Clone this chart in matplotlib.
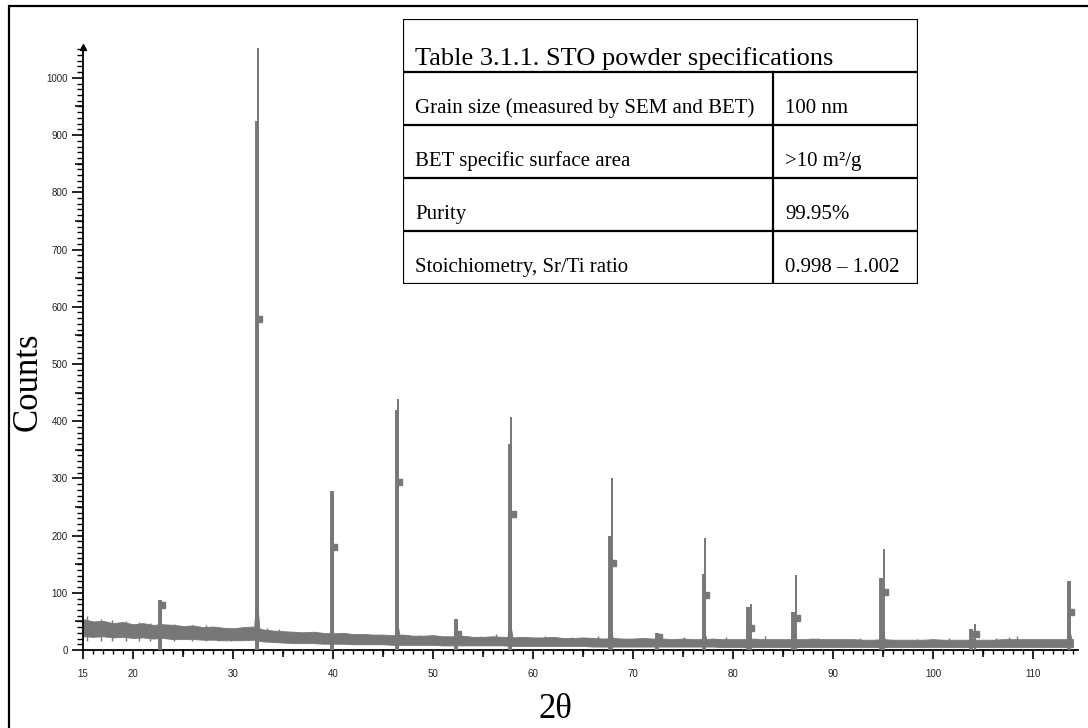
import numpy as np
import matplotlib
matplotlib.use("Agg")
import matplotlib.pyplot as plt
from matplotlib.ticker import MultipleLocator, FixedLocator
from matplotlib.lines import TICKDOWN, TICKLEFT
from matplotlib.patches import Rectangle

# --- XRD pattern of the STO powder ---
bg_x = list(range(15, 115))
bg_hi = [54, 50, 51, 47, 49, 45, 47, 44, 45, 44, 42, 43, 40, 41, 39, 38, 40, 41, 36, 34,
         33, 32, 31, 32, 30, 29, 30, 28, 28, 27, 27, 26, 27, 25, 25, 26, 24, 24, 25, 23,
         23, 24, 23, 22, 23, 22, 22, 23, 21, 21, 22, 21, 20, 21, 20, 20, 21, 20, 20, 19,
         20, 19, 19, 20, 19, 19, 19, 20, 19, 19, 19, 19, 19, 20, 19, 19, 19, 19, 18, 18,
         19, 18, 18, 18, 18, 19, 18, 18, 18, 18, 18, 18, 19, 19, 19, 19, 19, 19, 19, 19]
bg_lo = [24, 23, 24, 22, 23, 21, 22, 20, 21, 19, 19, 19, 18, 18, 17, 17, 17, 18, 15, 14,
         13, 12, 12, 12, 11, 11, 11, 10, 10, 10, 10, 9, 9, 9, 9, 9, 8, 8, 8, 8,
         8, 8, 8, 7, 7, 7, 7, 7, 7, 7, 7, 6, 6, 6, 6, 6, 6, 6, 6, 6,
         6, 6, 6, 6, 5, 5, 5, 5, 5, 5, 5, 5, 5, 5, 5, 5, 5, 5, 5, 5,
         5, 5, 5, 5, 5, 5, 5, 5, 5, 5, 5, 5, 5, 5, 5, 5, 5, 5, 5, 5]

# small noise spikes sticking out of the background band
spike_x = [15.4, 16.8, 17.9, 19.3, 20.6, 21.7, 24.1, 25.9, 27.3, 28.6, 29.8, 33.4, 34.6,
           36.2, 38.5, 43.1, 48.7, 50.6, 54.8, 56.3, 61.2, 63.9, 66.5, 72.4, 75.1, 79.3,
           83.2, 88.5, 90.2, 92.7, 98.4, 101.6, 106.3, 107.6, 108.4, 110.9]
spike_y = [60, 55, 53, 50, 49, 48, 45, 44, 43, 41, 39, 38, 36,
           32, 29, 27, 26, 24, 24, 28, 24, 23, 25, 30, 22, 22,
           25, 21, 20, 21, 20, 21, 21, 22, 24, 20]

# peaks: doublet positions and heights
pk_x1 = [22.75, 32.35, 39.9, 46.4, 52.25, 57.65, 67.7, 72.35, 77.05, 81.5, 86.0, 94.8, 103.8, 113.6]
pk_h1 = [88, 925, 278, 420, 54, 360, 199, 30, 133, 75, 66, 126, 36, 120]
pk_x2 = [22.85, 32.45, 40.0, 46.5, 52.35, 57.8, 67.85, 72.45, 77.2, 81.75, 86.3, 95.1, 104.2, 113.7]
pk_h2 = [80, 1052, 271, 439, 40, 408, 300, 25, 196, 80, 131, 177, 45, 100]
pk_foot = [35, 100, 40, 50, 22, 50, 40, 18, 35, 28, 30, 40, 20, 35]
pk_base = [28, 22, 16, 15, 14, 14, 13, 12, 12, 12, 12, 12, 12, 12]

# reference pattern markers
mk_x = [22.9, 32.55, 40.05, 46.6, 52.5, 58.0, 68.0, 72.6, 77.3, 81.8, 86.4, 95.2, 104.3, 113.8]
mk_y = [78, 578, 180, 294, 28, 237, 152, 22, 96, 38, 56, 101, 28, 66]

x_ticks = [15, 20, 30, 40, 50, 60, 70, 80, 90, 100, 110]
y_ticks = [0, 100, 200, 300, 400, 500, 600, 700, 800, 900, 1000]

# --- table ---
table_title = "Table 3.1.1. STO powder specifications"
table_keys = ["Grain size (measured by SEM and BET)", "BET specific surface area",
              "Purity", "Stoichiometry, Sr/Ti ratio"]
table_vals = ["100 nm", ">10 m\u00b2/g", "99.95%", "0.998 \u2013 1.002"]

W, H = 1088, 728
gray = "#777777"

fig = plt.figure(figsize=(W / 100, H / 100), dpi=100)
ax = fig.add_axes([83 / W, 1 - 650 / H, (1078 - 83) / W, (650 - 47) / H])

ax.fill_between(bg_x, bg_lo, bg_hi, color=gray, lw=0.6, zorder=2)
ax.vlines(spike_x, 15, spike_y, color=gray, lw=1.0, zorder=2)

for i in range(len(pk_x1)):
    c = (pk_x1[i] + pk_x2[i]) / 2
    ax.fill([c - 0.3, c, c + 0.35], [pk_base[i], pk_foot[i], pk_base[i]],
            color=gray, lw=0.6, zorder=3)
    ax.vlines(pk_x1[i], 0, pk_h1[i], color=gray, lw=2.8, zorder=3)
    ax.vlines(pk_x2[i], 0, pk_h2[i], color=gray, lw=1.4, zorder=3)

ax.plot(mk_x, mk_y, ls="none", marker="s", ms=4, color=gray, zorder=4)

ax.set_xlim(15, 114.5)
ax.set_ylim(0, 1054)
for s in ["top", "right"]:
    ax.spines[s].set_visible(False)
for s in ["left", "bottom"]:
    ax.spines[s].set_linewidth(1.3)

ax.xaxis.set_major_locator(FixedLocator(x_ticks))
ax.xaxis.set_minor_locator(MultipleLocator(1))
ax.yaxis.set_major_locator(FixedLocator(y_ticks))
ax.yaxis.set_minor_locator(MultipleLocator(10))
ax.tick_params(which="major", axis="x", length=6.5, width=1.2, pad=7, labelsize=7)
ax.tick_params(which="minor", axis="x", length=3, width=1.0)
ax.tick_params(which="major", axis="y", length=8, width=1.2, pad=3, labelsize=7)
ax.tick_params(which="minor", axis="y", length=4, width=1.0)
for lab in ax.get_xticklabels() + ax.get_yticklabels():
    lab.set_family("Liberation Sans")
    lab.set_color("#222222")

# medium ticks at the halves
ax.plot([25, 35, 45, 55, 65, 75, 85, 95, 105], [0] * 9, ls="none", marker=TICKDOWN, ms=5,
        mew=1.1, color="black", transform=ax.get_xaxis_transform(), clip_on=False)
ax.plot([0] * 10, [50, 150, 250, 350, 450, 550, 650, 750, 850, 950], ls="none", marker=TICKLEFT,
        ms=6, mew=1.1, color="black", transform=ax.get_yaxis_transform(), clip_on=False)
ax.plot([0], [1], ls="none", marker="^", ms=5, color="black",
        transform=ax.transAxes, clip_on=False)

fig.text(28 / W, 1 - 382 / H, "Counts", rotation=90, ha="center", va="center",
         family="Liberation Serif", fontsize=25)
fig.text(555 / W, 1 - 709 / H, "2\u03b8", ha="center", va="center",
         family="Liberation Serif", fontsize=25)

# figure frame
fig.patches.append(Rectangle((9 / W, -0.05), 1.1, 1 - 6 / H + 0.05, transform=fig.transFigure,
                             fill=False, ec="black", lw=1.6))

# table
tl, tr, tt, tb = 403, 918, 19, 284
tax = fig.add_axes([tl / W, 1 - tb / H, (tr - tl) / W, (tb - tt) / H])
tax.set_xlim(tl, tr)
tax.set_ylim(tb, tt)
tax.axis("off")
tax.add_patch(Rectangle((tl, tt), tr - tl, tb - tt, fc="white", ec="black", lw=1.6))
row_h = 53
for k in range(1, 5):
    tax.plot([tl, tr], [tt + k * row_h, tt + k * row_h], color="black", lw=1.6)
tax.plot([773, 773], [tt + row_h, tb], color="black", lw=1.6)
tax.text(415, tt + row_h - 7, table_title, family="Liberation Serif", fontsize=19,
         va="baseline", ha="left")
for k in range(4):
    yb = tt + (k + 2) * row_h - 12
    tax.text(415, yb, table_keys[k], family="Liberation Serif", fontsize=15, va="baseline")
    tax.text(785, yb, table_vals[k], family="Liberation Serif", fontsize=15, va="baseline")

fig.savefig("out.png", dpi=100)
